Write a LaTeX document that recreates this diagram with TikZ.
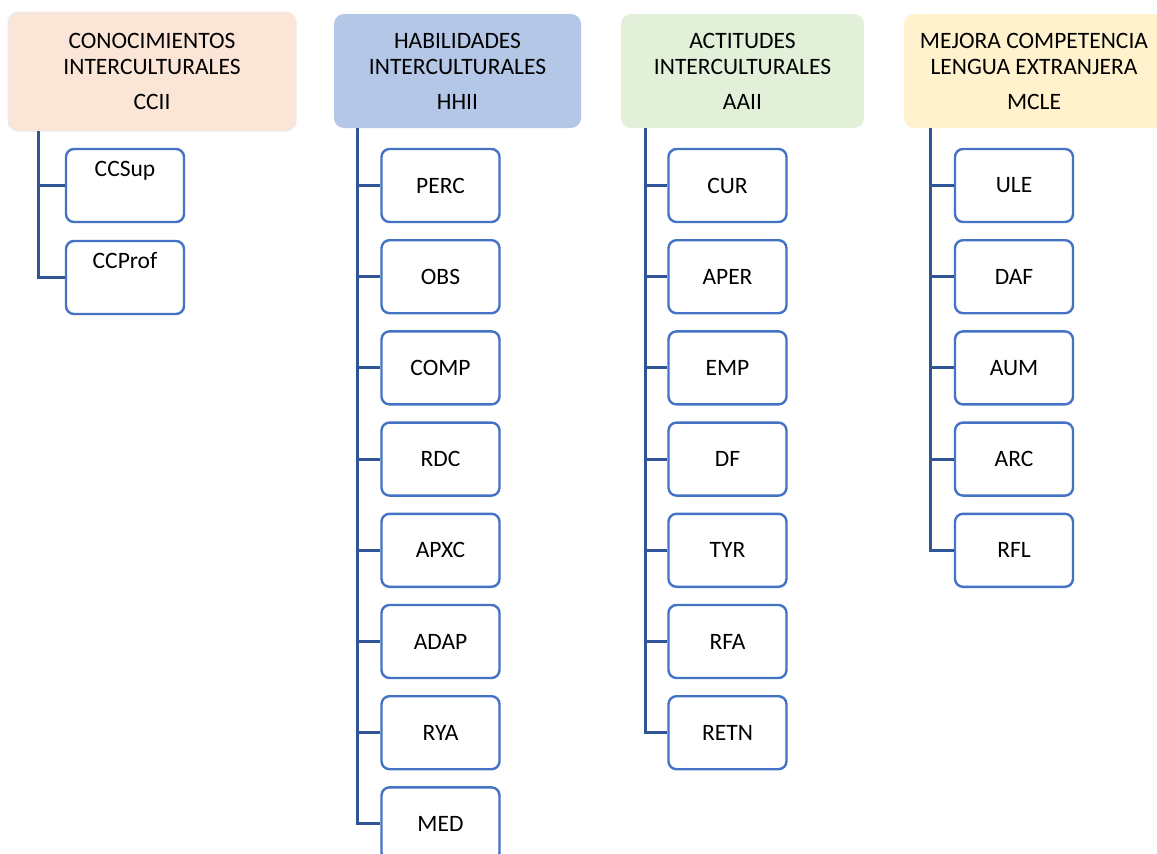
\documentclass[tikz,border=0pt]{standalone}
\usepackage{fontspec}
\setmainfont{Carlito}
\definecolor{peach}{HTML}{FBE5D6}
\definecolor{hblue}{HTML}{B4C7E7}
\definecolor{hgreen}{HTML}{E2F0D9}
\definecolor{hyellow}{HTML}{FFF2CC}
\definecolor{boxline}{HTML}{4472C4}
\definecolor{connline}{HTML}{2F5597}
\begin{document}
\begin{tikzpicture}[x=1pt,y=1pt,
  header/.style={rounded corners=10pt, inner sep=0pt, align=center,
    font=\fontsize{23.5}{26}\selectfont},
  childbox/.style={draw=boxline, line width=2.4pt, rounded corners=8pt, fill=white,
    minimum width=118pt, minimum height=73pt, inner sep=0pt,
    font=\fontsize{23.5}{26}\selectfont},
  topbox/.style={childbox, minimum height=0pt, inner ysep=0pt, text height=27pt, text depth=46pt},
  conn/.style={draw=connline, line width=3pt}]
\useasboundingbox (0,0) rectangle (1157,-854);
\fill[white] (0,0) rectangle (1157,-854);

% headers
\node[header, fill=peach, draw=black!8, line width=1pt, minimum width=288pt, minimum height=119pt] (cc) at (152,-71.5)
  {CONOCIMIENTOS\\INTERCULTURALES\\[9pt]CCII};
\node[header, fill=hblue, minimum width=247pt, minimum height=114pt] (hh) at (457.5,-71)
  {HABILIDADES\\INTERCULTURALES\\[9pt]HHII};
\node[header, fill=hgreen, minimum width=243pt, minimum height=114pt] (aa) at (742.5,-71)
  {ACTITUDES\\INTERCULTURALES\\[9pt]AAII};
\node[header, fill=hyellow, minimum width=260pt, minimum height=114pt] (ml) at (1034,-71)
  {MEJORA COMPETENCIA\\LENGUA EXTRANJERA\\[9pt]MCLE};

% trunk tops
\coordinate (tc) at (38,-131);
\coordinate (th) at (357,-128);
\coordinate (ta) at (645,-128);
\coordinate (tm) at (930,-128);

% CC children
\node[topbox] (c1) at (125,-185.5) {CCSup};
\node[topbox] (c2) at (125,-277.5) {CCProf};
\foreach \n in {c1,c2} \draw[conn] (tc) |- (\n.west);

% HH children
\foreach \t [count=\i from 0] in {PERC,OBS,COMP,RDC,APXC,ADAP,RYA,MED} {
  \node[childbox] (h\i) at (440.5,{-185.5-91.2*\i}) {\t};
  \draw[conn] (th) |- (h\i.west);
}
% AA children
\foreach \t [count=\i from 0] in {CUR,APER,EMP,DF,TYR,RFA,RETN} {
  \node[childbox] (a\i) at (727.5,{-185.5-91.2*\i}) {\t};
  \draw[conn] (ta) |- (a\i.west);
}
% MCLE children
\foreach \t [count=\i from 0] in {ULE,DAF,AUM,ARC,RFL} {
  \node[childbox] (m\i) at (1014,{-185.5-91.2*\i}) {\t};
  \draw[conn] (tm) |- (m\i.west);
}
\end{tikzpicture}
\end{document}
